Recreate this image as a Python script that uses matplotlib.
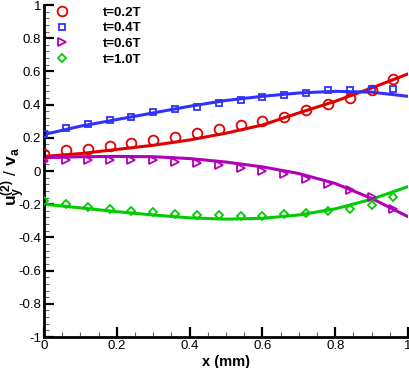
import matplotlib
matplotlib.use('Agg')
import matplotlib.pyplot as plt
from matplotlib.ticker import MultipleLocator
import numpy as np

plt.rcParams['font.family'] = 'Liberation Sans'
plt.rcParams['mathtext.fontset'] = 'custom'
plt.rcParams['mathtext.rm'] = 'Liberation Sans:bold'
plt.rcParams['mathtext.it'] = 'Liberation Sans:bold'
plt.rcParams['mathtext.bf'] = 'Liberation Sans:bold'

# symbols (sampled data)
x_pts = [0.0, 0.06, 0.12, 0.18, 0.24, 0.30, 0.36, 0.42, 0.48,
         0.54, 0.60, 0.66, 0.72, 0.78, 0.84, 0.90, 0.96]
t02_pts = [0.102, 0.125, 0.134, 0.150, 0.169, 0.187, 0.207, 0.229, 0.251,
           0.277, 0.301, 0.323, 0.365, 0.402, 0.438, 0.490, 0.554]
t04_pts = [0.223, 0.257, 0.283, 0.305, 0.327, 0.353, 0.372, 0.387, 0.410,
           0.426, 0.446, 0.460, 0.472, 0.490, 0.490, 0.496, 0.496]
t06_pts = [0.060, 0.068, 0.068, 0.068, 0.068, 0.064, 0.052, 0.046, 0.038,
           0.016, 0.000, -0.020, -0.050, -0.078, -0.116, -0.157, -0.229]
t10_pts = [-0.179, -0.197, -0.219, -0.231, -0.239, -0.249, -0.259, -0.267, -0.268,
           -0.273, -0.269, -0.261, -0.253, -0.243, -0.229, -0.205, -0.158]

# solid curves
x_line = [0.0, 0.1, 0.2, 0.3, 0.4, 0.5, 0.6, 0.7, 0.8, 0.9, 1.0]
t02_line = [0.088, 0.105, 0.130, 0.155, 0.187, 0.228, 0.277, 0.350, 0.420, 0.500, 0.585]
t04_line = [0.220, 0.270, 0.310, 0.350, 0.390, 0.425, 0.450, 0.470, 0.480, 0.475, 0.450]
t06_line = [0.080, 0.086, 0.088, 0.086, 0.075, 0.054, 0.025, -0.015, -0.075, -0.165, -0.275]
t10_line = [-0.200, -0.222, -0.245, -0.265, -0.282, -0.290, -0.285, -0.265, -0.228, -0.170, -0.094]

labels = ['t=0.2T', 't=0.4T', 't=0.6T', 't=1.0T']
colors = ['#e00000', '#3030ff', '#b000b8', '#00cc00']
markers = ['o', 's', '>', 'D']
msizes = [7, 5, 6, 4.5]

xticks = [0, 0.2, 0.4, 0.6, 0.8, 1]
xticklabels = ['0', '0.2', '0.4', '0.6', '0.8', '1']
yticks = [-1, -0.8, -0.6, -0.4, -0.2, 0, 0.2, 0.4, 0.6, 0.8, 1]
yticklabels = ['-1', '-0.8', '-0.6', '-0.4', '-0.2', '0', '0.2', '0.4', '0.6', '0.8', '1']

fig = plt.figure(figsize=(4.09, 3.68), dpi=100)
ax = fig.add_axes([0.1076, 0.0842, 0.89, 0.9022])

pts = [t02_pts, t04_pts, t06_pts, t10_pts]
lines = [t02_line, t04_line, t06_line, t10_line]
handles = []
for i in range(4):
    ax.plot(x_line, lines[i], color=colors[i], lw=2.2, zorder=2)
    h, = ax.plot(x_pts, pts[i], linestyle='none', marker=markers[i], ms=msizes[i],
                 mfc='none', mec=colors[i], mew=1.3, label=labels[i], zorder=3)
    handles.append(h)

ax.set_xlim(0, 1)
ax.set_ylim(-1, 1)
ax.set_xticks(xticks)
ax.set_xticklabels(xticklabels)
ax.set_yticks(yticks)
ax.set_yticklabels(yticklabels)
ax.xaxis.set_minor_locator(MultipleLocator(0.05))
ax.yaxis.set_minor_locator(MultipleLocator(0.04))

ax.spines['top'].set_visible(False)
ax.spines['right'].set_visible(False)
ax.spines['left'].set_linewidth(2)
ax.spines['bottom'].set_linewidth(2)
ax.tick_params(which='major', direction='in', length=7, width=1.6, labelsize=9.5, pad=2)
ax.tick_params(which='minor', direction='in', length=3.5, width=0.8, color='#666666')

ax.set_xlabel('x (mm)', fontsize=10.5, fontweight='bold', labelpad=0)
ax.set_ylabel(r'$\mathrm{u_y^{(2)}}$ / $\mathrm{v_a}$', fontsize=12.5,
              va='center', ha='center', rotation_mode='default')
ax.yaxis.set_label_coords(-0.082, 0.485)
ax.xaxis.set_label_coords(0.5, -0.055)

ax.legend(handles=handles, loc='upper left', bbox_to_anchor=(0.03, 0.995),
          frameon=False, borderaxespad=0, borderpad=0, handlelength=1.0,
          handletextpad=2.6, labelspacing=0.25,
          prop={'weight': 'bold', 'size': 9.5})

fig.savefig('out.png', dpi=100)
